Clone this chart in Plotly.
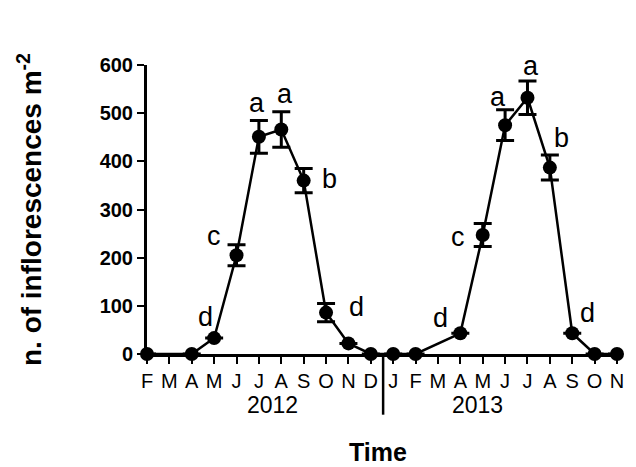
import plotly.graph_objects as go

# Month index 0 = Feb 2012 ... 21 = Nov 2013
month_labels = ["F", "M", "A", "M", "J", "J", "A", "S", "O", "N", "D",
                "J", "F", "M", "A", "M", "J", "J", "A", "S", "O", "N"]
month_idx = list(range(len(month_labels)))

# Sampled months (M 2012 and M 2013 missing)
x_idx = [0, 2, 3, 4, 5, 6, 7, 8, 9, 10, 11, 12, 14, 15, 16, 17, 18, 19, 20, 21]
values = [0, 0, 33, 205, 451, 466, 360, 86, 22, 0, 0, 0, 43, 247, 475, 532, 387, 43, 0, 0]
errors = [0, 0, 0, 22, 34, 37, 25, 19, 0, 0, 0, 0, 0, 24, 32, 35, 26, 0, 0, 0]

# Significance letters
letters = ["d", "c", "a", "a", "b", "d", "d", "c", "a", "a", "b", "d"]
letter_x = [2.6, 3.0, 4.9, 6.15, 8.15, 9.35, 13.1, 13.9, 15.7, 17.15, 18.5, 19.7]
letter_y = [76, 246, 521, 540, 364, 97, 74, 242, 534, 598, 449, 85]

years = ["2012", "2013"]
year_x = [5.6, 14.75]

FONT = "Liberation Sans, Arial, sans-serif"

fig = go.Figure()
fig.add_trace(go.Scatter(
    x=x_idx, y=values,
    mode="lines+markers",
    line=dict(color="black", width=2.5),
    marker=dict(color="black", size=14),
    error_y=dict(type="data", array=errors, color="black", thickness=3, width=9),
    cliponaxis=False,
    showlegend=False,
))

for t, xx, yy in zip(letters, letter_x, letter_y):
    fig.add_annotation(x=xx, y=yy, text=t, showarrow=False,
                       font=dict(family=FONT, size=27, color="black"),
                       xanchor="center", yanchor="middle")

for t, xx in zip(years, year_x):
    fig.add_annotation(x=xx, y=-0.178, yref="paper", text=t, showarrow=False,
                       font=dict(family=FONT, size=23, color="black"),
                       xanchor="center", yanchor="middle")

fig.add_annotation(x=10.3, y=-0.338, yref="paper", text="<b>Time</b>", showarrow=False,
                   font=dict(family=FONT, size=25, color="black"),
                   xanchor="center", yanchor="middle")

fig.add_shape(type="line", xref="x", yref="paper", x0=10.55, x1=10.55, y0=0, y1=-0.21,
              line=dict(color="black", width=2.5))

# page body has an 8px margin, so the figure is sized and placed to compensate
fig.update_layout(
    width=628, height=459,
    margin=dict(l=139, r=16, t=57, b=113),
    paper_bgcolor="white", plot_bgcolor="white",
    font=dict(family=FONT, color="black"),
    xaxis=dict(
        range=[0, 21], tickmode="array", tickvals=month_idx, ticktext=month_labels,
        showgrid=False, zeroline=False, showline=True, linecolor="black", linewidth=3,
        ticks="outside", ticklen=7, tickwidth=2, tickcolor="black",
        tickfont=dict(family=FONT, size=20, color="black"),
    ),
    yaxis=dict(
        range=[0, 600], tickmode="array", tickvals=[0, 100, 200, 300, 400, 500, 600],
        ticktext=["<b>0</b>", "<b>100</b>", "<b>200</b>", "<b>300</b>", "<b>400</b>", "<b>500</b>", "<b>600</b>"],
        showgrid=False, zeroline=False, showline=True, linecolor="black", linewidth=3,
        ticks="outside", ticklen=7, tickwidth=2, tickcolor="black",
        tickfont=dict(family=FONT, size=20, color="black"),
        title=dict(text="<b>n. of inflorescences m<sup>-2</sup></b>",
                   font=dict(family=FONT, size=28, color="black"), standoff=50),
    ),
)

fig.write_html("out.html")
